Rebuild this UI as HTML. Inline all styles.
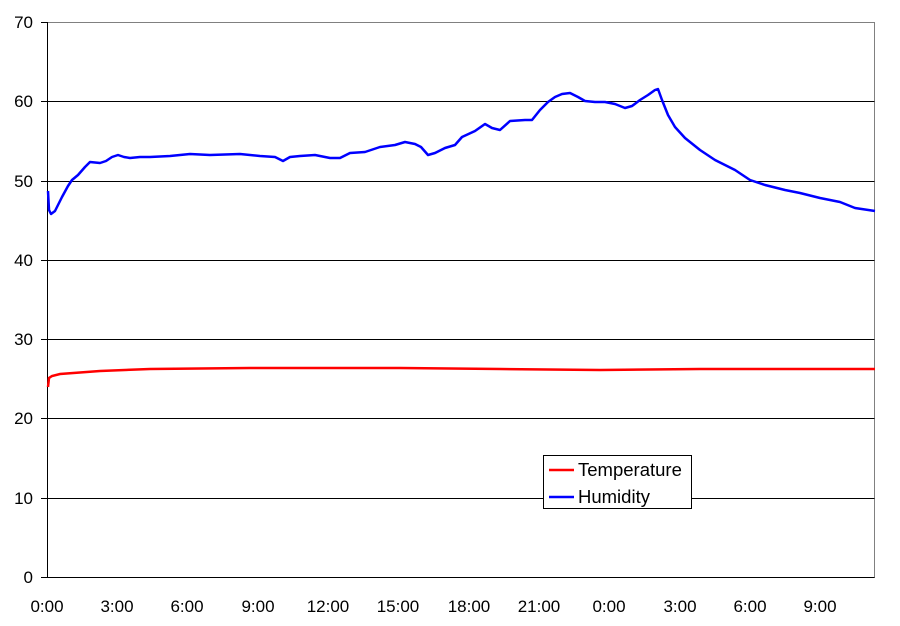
<!DOCTYPE html>
<html><head><meta charset="utf-8"><style>body{margin:0;background:#fff}svg{display:block}text{font-family:"Liberation Sans",Arial,sans-serif;font-size:17px;fill:#000}</style></head><body>
<svg width="900" height="626" viewBox="0 0 900 626">
<rect x="47.5" y="22.5" width="827" height="555" fill="#fff" stroke="#808080" stroke-width="1"/>
<g stroke="#000" stroke-width="1">
<line x1="41" y1="22.5" x2="47.5" y2="22.5"/>
<line x1="41" y1="101.5" x2="874.5" y2="101.5"/>
<line x1="41" y1="181.5" x2="874.5" y2="181.5"/>
<line x1="41" y1="260.5" x2="874.5" y2="260.5"/>
<line x1="41" y1="339.5" x2="874.5" y2="339.5"/>
<line x1="41" y1="418.5" x2="874.5" y2="418.5"/>
<line x1="41" y1="498.5" x2="874.5" y2="498.5"/>
<line x1="41" y1="577.5" x2="874.5" y2="577.5"/>
<line x1="47.5" y1="22" x2="47.5" y2="578"/>
</g>
<g text-anchor="end">
<text x="33" y="28">70</text><text x="33" y="107">60</text><text x="33" y="187">50</text><text x="33" y="266">40</text><text x="33" y="345">30</text><text x="33" y="424">20</text><text x="33" y="504">10</text><text x="33" y="583">0</text>
</g>
<g text-anchor="middle">
<text x="47" y="612">0:00</text><text x="117" y="612">3:00</text><text x="187" y="612">6:00</text><text x="258" y="612">9:00</text><text x="328" y="612">12:00</text><text x="398" y="612">15:00</text><text x="469" y="612">18:00</text><text x="539" y="612">21:00</text><text x="609" y="612">0:00</text><text x="680" y="612">3:00</text><text x="750" y="612">6:00</text><text x="820" y="612">9:00</text>
</g>
<polyline fill="none" stroke="#f00" stroke-width="2.5" points="48,387 49,378 52,376 60,374 100,371 150,369 250,368 400,368 500,369 600,370 700,369 875,369"/>
<polyline fill="none" stroke="#00f" stroke-width="2.5" stroke-linejoin="round" points="48,191 49,210 51,214 55,211 62,197 68,186 72,180 78,175 85,167 90,162 100,163 106,161 112,157 118,155 124,157 130,158 140,157 150,157 170,156 190,154 210,155 240,154 260,156 275,157 283,161 290,157 300,156 315,155 330,158 340,158 350,153 365,152 380,147 395,145 405,142 415,144 421,147 428,155 435,153 445,148 455,145 462,137 475,131 485,124 492,128 500,130 510,121 525,120 532,120 540,110 548,102 555,97 562,94 570,93 578,97 585,101 595,102 605,102 615,104 625,108 632,106 640,100 648,95 655,90 658,89 662,100 668,115 675,127 685,138 700,150 715,160 735,170 750,180 765,185 785,190 800,193 820,198 840,202 855,208 875,211"/>
<rect x="543.5" y="455.5" width="148" height="53" fill="#fff" stroke="#000"/>
<line x1="549" y1="470" x2="574" y2="470" stroke="#f00" stroke-width="2.5"/>
<line x1="549" y1="497" x2="574" y2="497" stroke="#00f" stroke-width="2.5"/>
<text x="578" y="476" style="font-size:18.5px">Temperature</text>
<text x="578" y="503" style="font-size:18.5px">Humidity</text>
</svg>
</body></html>
